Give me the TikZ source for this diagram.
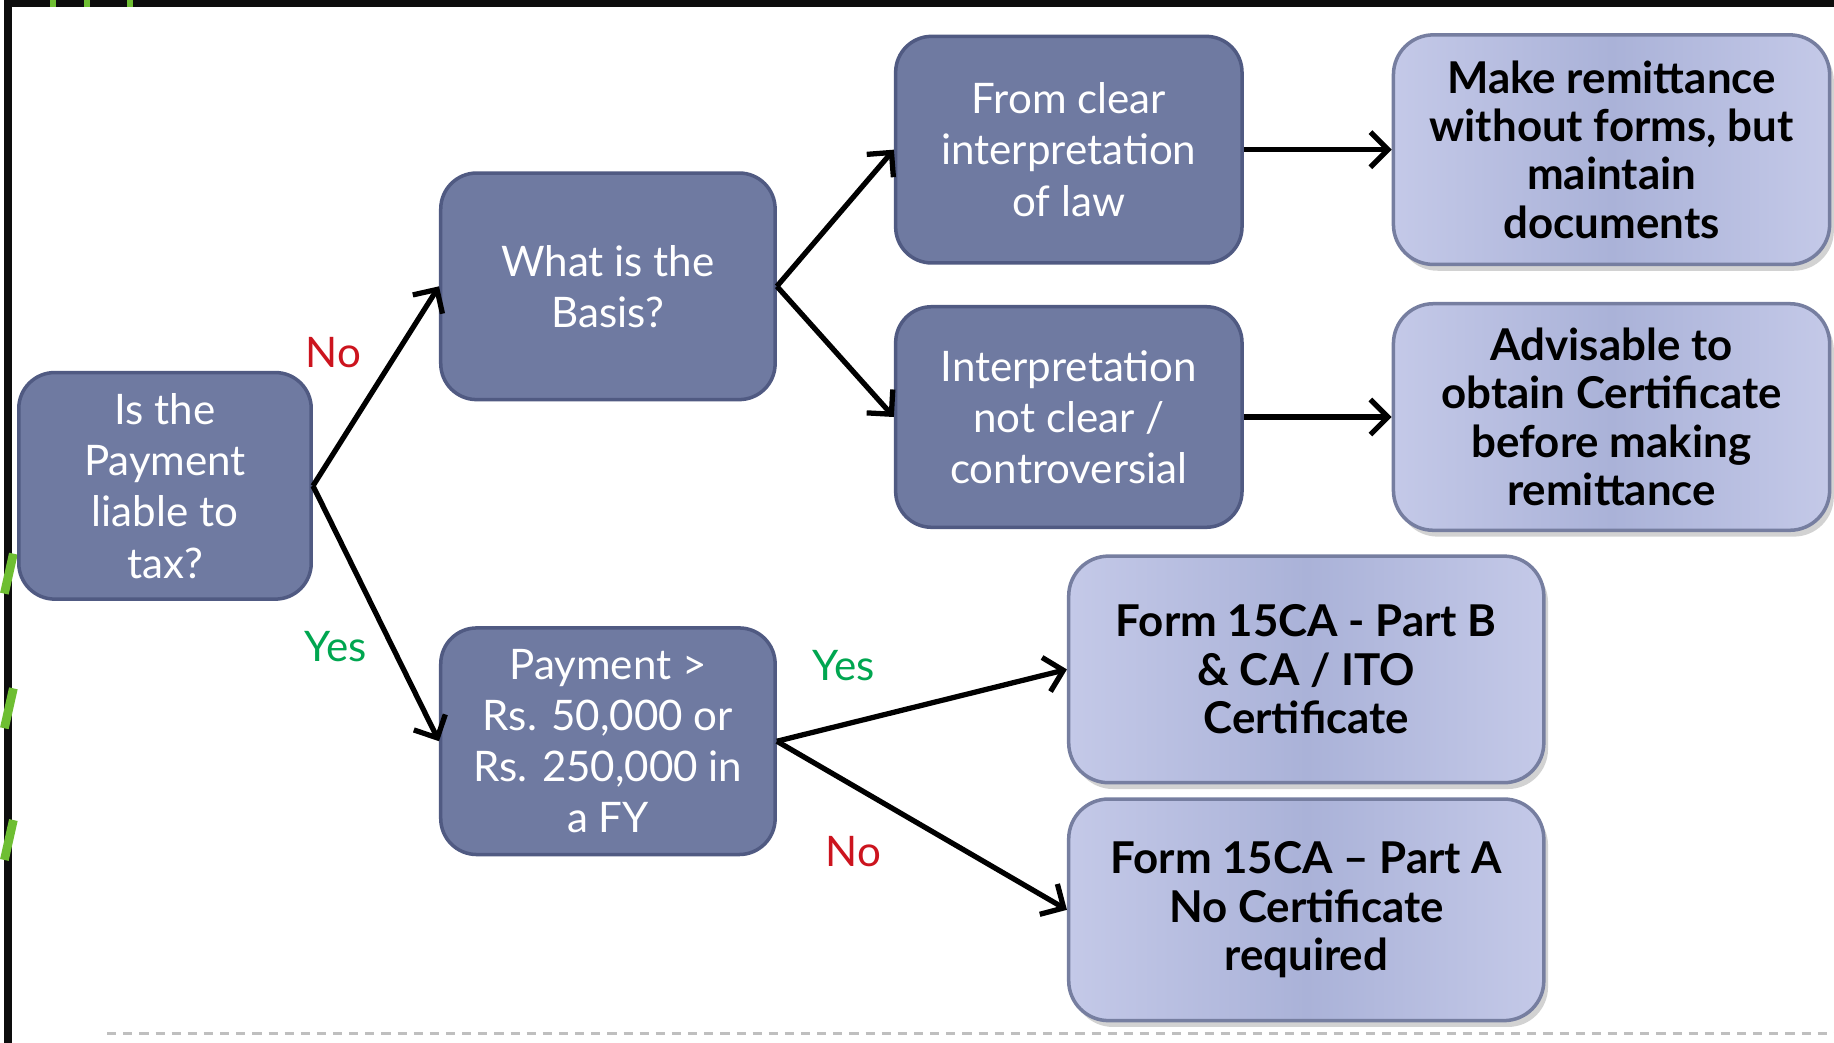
\documentclass[tikz,border=0pt]{standalone}
\usepackage{fontspec}
\setmainfont{Lato}
\usetikzlibrary{shapes, arrows.meta, positioning, shadows}
\definecolor{xSlate}{RGB}{111,122,161}
\definecolor{xSlateEdge}{RGB}{80,90,130}
\definecolor{xLavMid}{RGB}{170,178,216}
\definecolor{xLavEdge}{RGB}{196,201,232}
\definecolor{xLavBorder}{RGB}{118,126,160}
\definecolor{xNoRed}{RGB}{204,20,30}
\definecolor{xYesGreen}{RGB}{0,166,80}
\definecolor{xSlideGreen}{RGB}{110,190,50}

\tikzset{
  darkbox/.style={draw=xSlateEdge, line width=1pt, fill=xSlate, rounded corners=0.36cm,
    text=white, align=center, font=\fontsize{12}{14.6}\selectfont,
    minimum height=2.27cm, inner sep=2pt},
  lightbox/.style={draw=xLavBorder, line width=1pt, left color=xLavEdge, right color=xLavEdge,
    middle color=xLavMid, rounded corners=0.4cm, text=black, align=center,
    font=\fontsize{12.5}{13.8}\selectfont\bfseries, minimum height=2.27cm, inner sep=2pt,
    drop shadow={shadow xshift=1.2pt, shadow yshift=-1.8pt, opacity=0.35}},
  flow/.style={line width=1.5pt, -{Straight Barb[length=5pt, width=10pt, line width=1.5pt]}},
  answer/.style={font=\fontsize{12}{14}\selectfont},
}

\begin{document}
\begin{tikzpicture}[x=0.01cm, y=-0.01cm]
  % page and slide frame
  \fill[white] (0,0) rectangle (1834,1045);
  \fill[black!95] (0,0) rectangle (1834,7);
  \fill[black!95] (0,0) rectangle (8,1045);
  \foreach \x in {46,80,123} {
    \fill[xSlideGreen] (\x,0) rectangle (\x+6,7);
  }
  \foreach \y in {555,690,822} {
    \draw[xSlideGreen, line width=2.5pt] (0,\y+40) -- (9,\y);
  }
  \useasboundingbox (0,0) rectangle (1834,1045);

  % question boxes
  \node[darkbox, minimum width=2.93cm] (liable) at (161,487) {Is the\\Payment\\liable to\\tax?};
  \node[darkbox, minimum width=3.35cm] (basis) at (605,287) {What is the\\Basis?};
  \node[darkbox, minimum width=3.35cm] (amount) at (605,743) {Payment >\\Rs. 50,000 or\\Rs. 250,000 in\\a FY};
  \node[darkbox, minimum width=3.47cm] (clear) at (1067,150) {From clear\\interpretation\\of law};
  \node[darkbox, minimum width=3.47cm, minimum height=2.21cm] (unclear) at (1067,418) {Interpretation\\not clear /\\controversial};

  % outcome boxes
  \node[lightbox, minimum width=4.37cm, minimum height=2.3cm] (nodocs) at (1611,150) {Make remittance\\without forms, but\\maintain\\documents};
  \node[lightbox, minimum width=4.37cm] (advise) at (1611,418) {Advisable to\\obtain Certificate\\before making\\remittance};
  \node[lightbox, minimum width=4.76cm] (partb) at (1305,671) {Form 15CA - Part B\\\& CA / ITO\\Certificate};
  \node[lightbox, minimum width=4.76cm, minimum height=2.22cm] (parta) at (1305,912) {Form 15CA -- Part A\\No Certificate\\required};

  % connectors
  \draw[flow] (liable.east) -- (basis.west);
  \draw[flow] (liable.east) -- (amount.west);
  \draw[flow] (basis.east) -- (clear.west);
  \draw[flow] (basis.east) -- (unclear.west);
  \draw[flow] (clear.east) -- (nodocs.west);
  \draw[flow] (unclear.east) -- (advise.west);
  \draw[flow] (amount.east) -- (partb.west);
  \draw[flow] (amount.east) -- (parta.west);

  % answers
  \node[answer, text=xNoRed] (noTax) at (330,353) {No};
  \node[answer, text=xYesGreen] (yesTax) at (332,648) {Yes};
  \node[answer, text=xYesGreen] (yesAmt) at (841,667) {Yes};
  \node[answer, text=xNoRed] (noAmt) at (851,854) {No};

  % footer rule
  \draw[gray!50, line width=0.6pt, dash pattern=on 2.6pt off 2pt] (103,1036) -- (1834,1036);
\end{tikzpicture}
\end{document}
